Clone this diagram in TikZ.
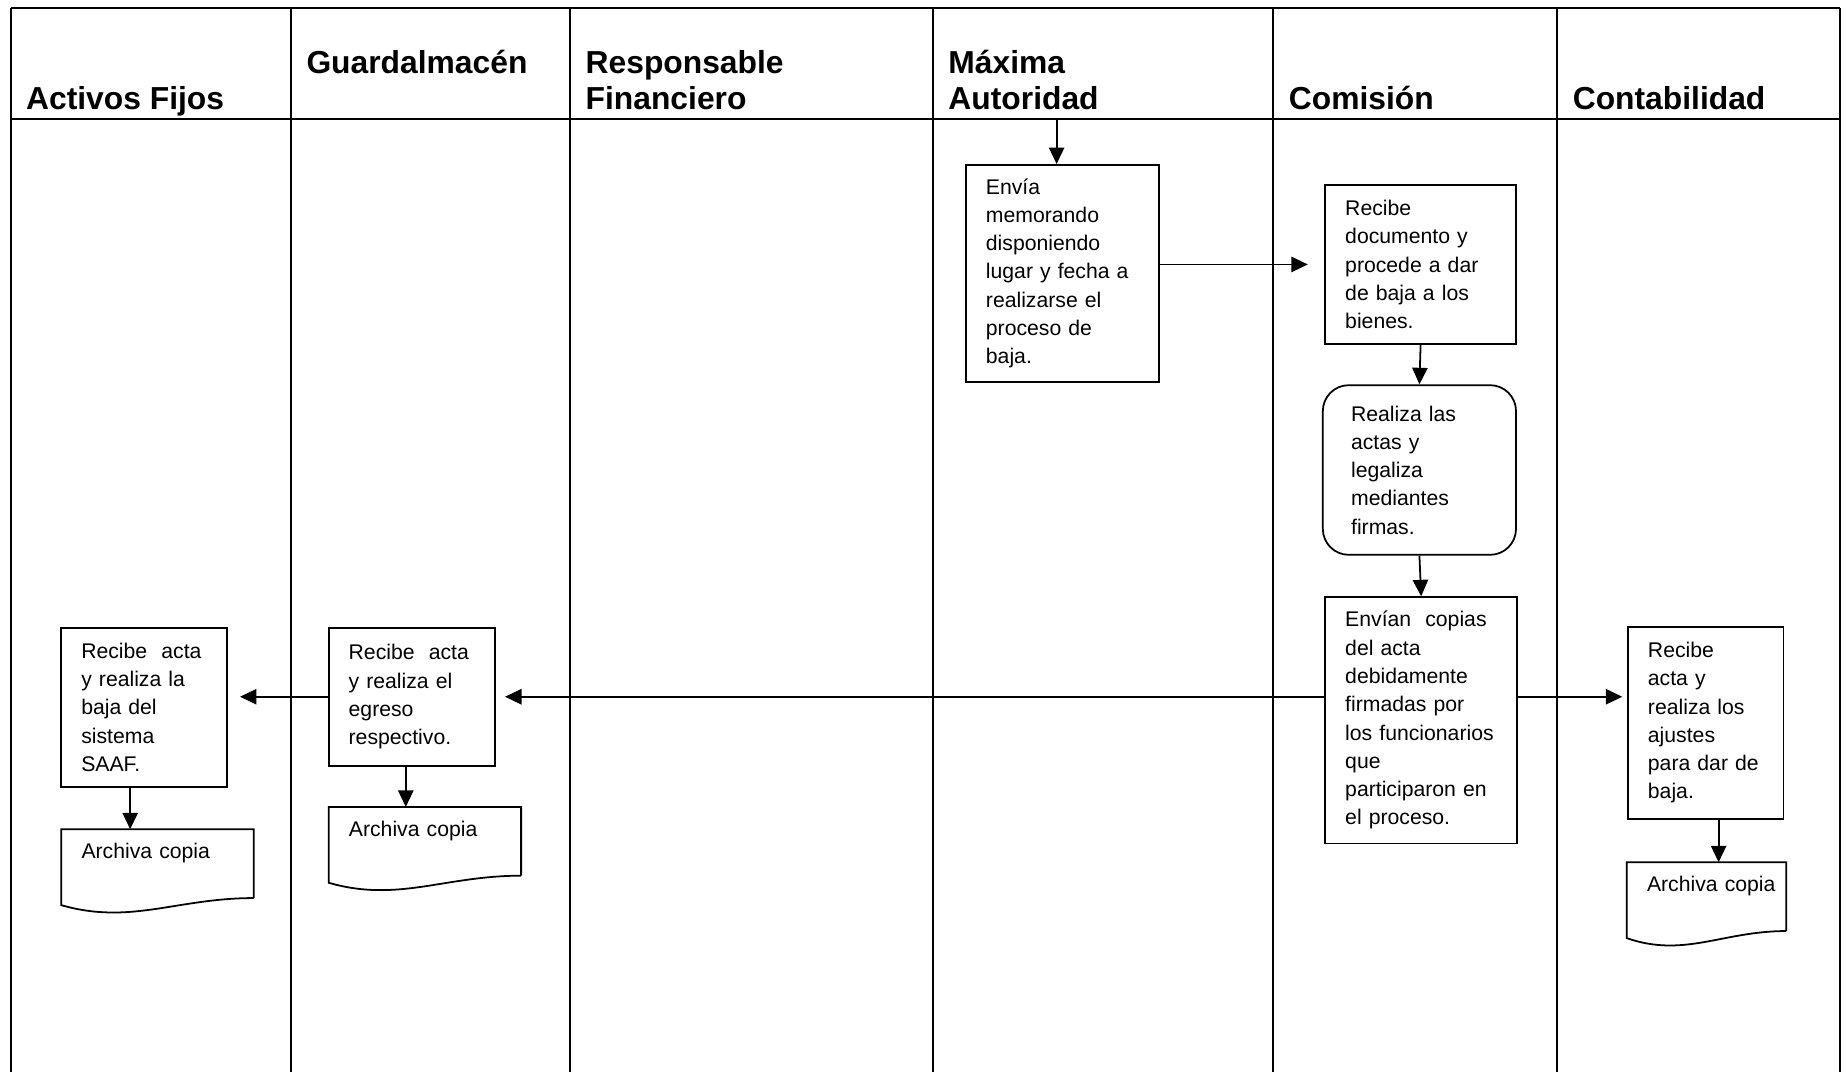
\documentclass[tikz,border=0pt]{standalone}
\usepackage{fontspec}
\setmainfont{Liberation Sans}
\usetikzlibrary{arrows.meta,calc}
\begin{document}
\begin{tikzpicture}[x=1pt, y=-1pt,
    frame/.style={line width=1.7pt},
    header/.style={anchor=base west, inner sep=0pt, align=left, font=\fontsize{27}{31}\selectfont\bfseries},
    procbox/.style={rectangle, draw=black, line width=1.5pt, align=left, inner xsep=17pt, inner ysep=4pt, font=\fontsize{18}{24}\selectfont},
    roundbox/.style={procbox, rounded corners=22pt, inner xsep=24pt},
    docbox/.style={rectangle, align=left, anchor=north west, inner xsep=17pt, inner ysep=12pt, text height=13pt, text depth=21pt, font=\fontsize{18}{24}\selectfont},
    arr/.style={-{Triangle[length=14pt,width=13pt]}, line width=1.5pt}
]
\useasboundingbox (0,0) rectangle (1568,910);

% swimlane frame
\draw[frame] (9,7) -- (1562,7);
\draw[frame] (9,101) -- (1562,101);
\foreach \x in {9,247,484,792,1081,1322,1562}
  \draw[frame] (\x,7) -- (\x,910);

% lane headers
\node[header] (hact) at (22,93) {Activos Fijos};
\node[header] (hgua) at (260,62) {Guardalmacén};
\node[header] (hres) at (497,93) {Responsable\\Financiero};
\node[header] (hmax) at (805,93) {Máxima\\Autoridad};
\node[header] (hcom) at (1094,93) {Comisión};
\node[header] (hcon) at (1335,93) {Contabilidad};

% steps
\node[procbox, text width=130pt, minimum height=184pt] (envia) at (902,232) {Envía\\memorando\\disponiendo\\lugar y fecha a\\realizarse el\\proceso de\\baja.};
\node[procbox, text width=128pt, minimum height=135pt] (recibe) at (1206,224.5) {Recibe\\documento y\\procede a dar\\de baja a los\\bienes.};
\node[roundbox, text width=116pt, minimum height=144pt] (actas) at (1205,399) {Realiza las\\actas y\\legaliza\\mediantes\\firmas.};
\node[procbox, text width=129pt, minimum height=209pt] (envian) at (1206.5,611.5) {Envían~~copias\\del acta\\debidamente\\firmadas por\\los funcionarios\\que\\participaron en\\el proceso.};
\node[procbox, text width=98pt, minimum height=163pt] (ajustes) at (1448,613.5) {Recibe\\acta y\\realiza los\\ajustes\\para dar de\\baja.};
\node[procbox, text width=107pt, minimum height=117pt] (egreso) at (349.5,591.5) {Recibe~~acta\\y realiza el\\egreso\\respectivo.};
\node[procbox, text width=107pt, minimum height=135pt] (bajasaaf) at (122.5,600.5) {Recibe~~acta\\y realiza la\\baja del\\sistema\\SAAF.};

% archive documents
\node[docbox, text width=129pt] (archaf) at (52,704) {Archiva~copia};
\node[docbox, text width=129pt] (archga) at (279,685) {Archiva~copia};
\node[docbox, text width=101pt] (archco) at (1381,732) {Archiva~copia};
\foreach \d in {archaf,archga,archco}
  \draw[line width=1.5pt] (\d.south east) -- (\d.north east) -- (\d.north west) -- ([yshift=-6pt]\d.south west)
    .. controls ([yshift=-23pt]$(\d.south west)!0.36!(\d.south east)$) and ($(\d.south west)!0.6!(\d.south east)$) .. (\d.south east);

% flow
\coordinate (maxtop) at (897,102);
\draw[arr] (maxtop) -- (maxtop |- envia.north);
\draw[arr, shorten >=14pt] (envia.east |- recibe.west) -- (recibe.west);
\draw[arr] (recibe.south) -- (actas.north);
\draw[arr] (actas.south) -- (envian.north);
\draw[arr, shorten >=4pt] (envian.east |- egreso) -- (ajustes.west |- egreso);
\draw[arr, shorten >=8pt] (envian.west |- egreso) -- (egreso.east);
\draw[arr, shorten >=10pt] (egreso.west) -- (bajasaaf.east |- egreso);
\draw[arr] ([xshift=11pt]ajustes.south) -- ([xshift=11pt]ajustes.south |- archco.north);
\draw[arr] ([xshift=-5pt]egreso.south) -- ([xshift=-5pt]egreso.south |- archga.north);
\draw[arr] ([xshift=-12pt]bajasaaf.south) -- ([xshift=-12pt]bajasaaf.south |- archaf.north);
\end{tikzpicture}
\end{document}
